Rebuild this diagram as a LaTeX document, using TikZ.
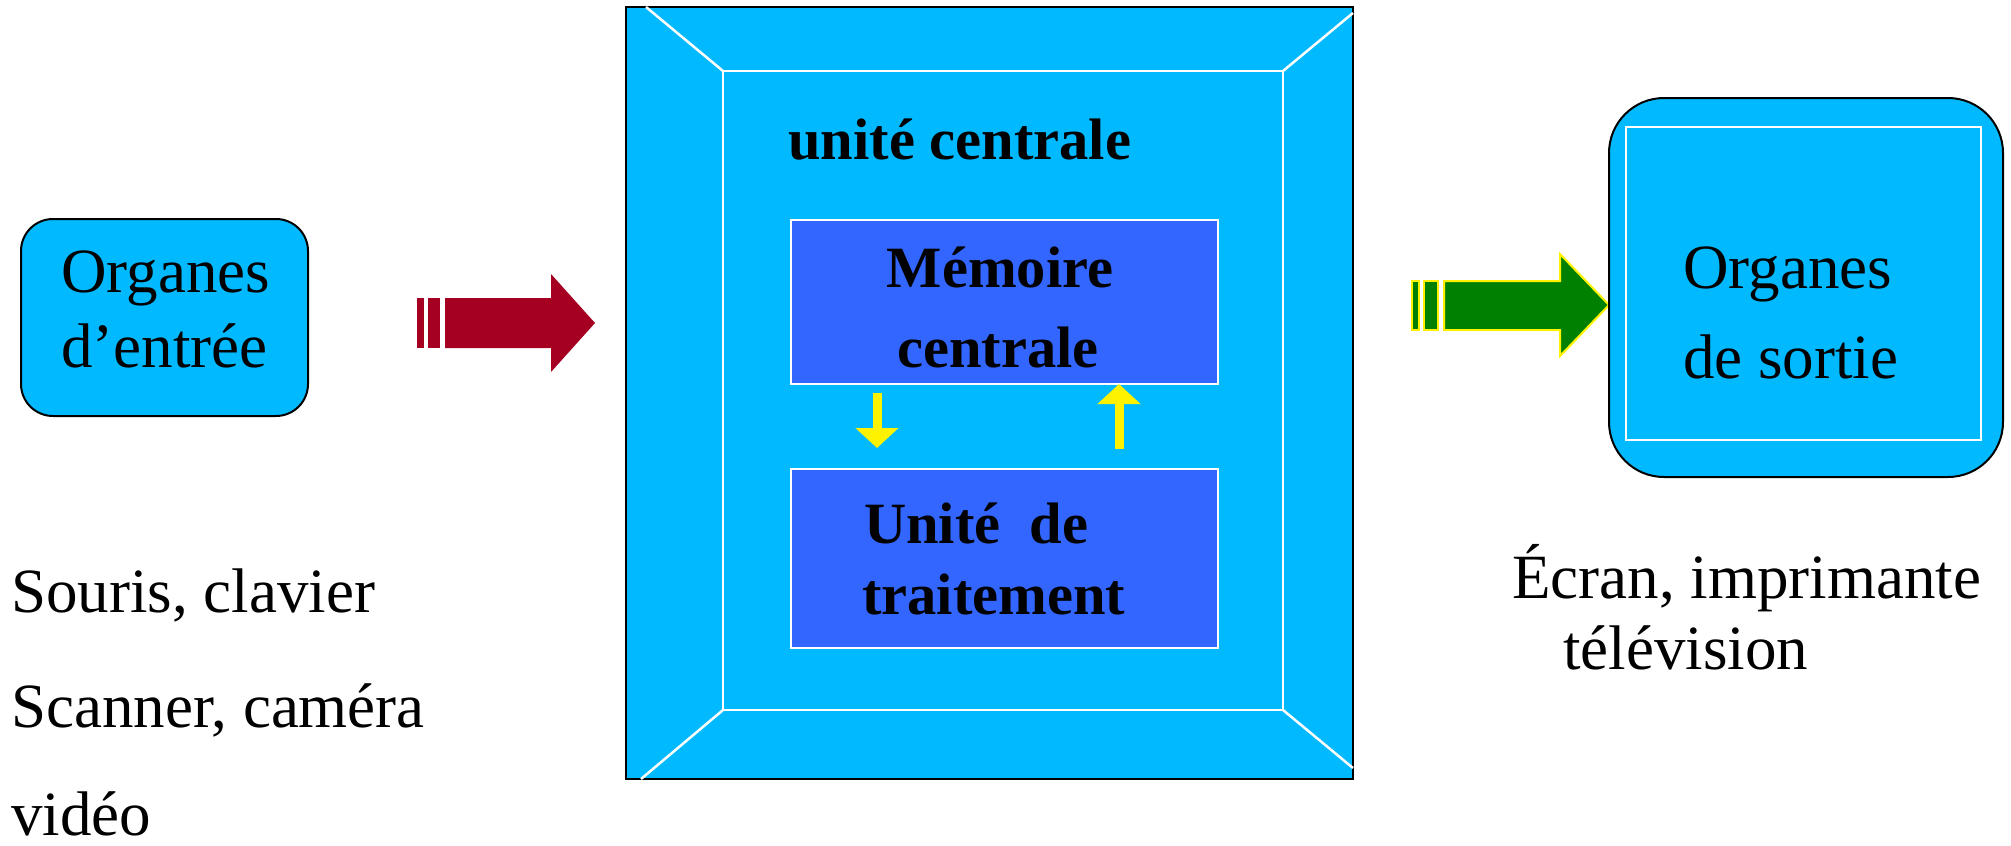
\documentclass[tikz,border=0pt]{standalone}
\usepackage{fontspec}
\setmainfont{Liberation Serif}
\usetikzlibrary{arrows.meta, fit, calc}

\definecolor{cyanfond}{RGB}{0,185,255}
\definecolor{bleubloc}{RGB}{51,102,255}
\definecolor{rougefleche}{RGB}{165,0,33}
\definecolor{vertfleche}{RGB}{0,128,0}

\tikzset{
  organe/.style={draw=black, line width=2pt, fill=cyanfond, inner sep=0pt, outer sep=0pt},
  cadre/.style={draw=white, line width=2.5pt, inner sep=0pt, outer sep=0pt},
  bloc/.style={draw=white, line width=2.5pt, fill=bleubloc, inner sep=0pt, outer sep=0pt},
  texte/.style={inner sep=0pt, anchor=base west, font=\fontsize{63}{75}\selectfont},
  gras/.style={inner sep=0pt, anchor=base west, font=\fontsize{58.5}{70}\selectfont\bfseries},
  echange/.style={draw=yellow, line width=9pt, -{Triangle[width=42pt,length=20pt]}}
}

\begin{document}
\begin{tikzpicture}[x=1pt, y=-1pt]
    \useasboundingbox (0,0) rectangle (2011,846);

    % Organes d'entree
    \node[organe, rounded corners=32pt, fit={(21,219) (308,416)}] (entree) {};
    \node[texte] (entree1) at (61,292) {Organes};
    \node[texte] (entree2) at (61,367) {d’entrée};

    % Exemples d'entree
    \node[texte] (ex1) at (11,612) {Souris, clavier};
    \node[texte] (ex2) at (11,727) {Scanner, caméra};
    \node[texte] (ex3) at (11,835) {vidéo};

    % Fleche rouge (entree -> unite centrale)
    \fill[rougefleche] (417,298) rectangle (424,348);
    \fill[rougefleche] (428,298) rectangle (440,348);
    \fill[rougefleche] (445,298) -- (551,298) -- (551,274) -- (595,323)
        -- (551,372) -- (551,348) -- (445,348) -- cycle;

    % Unite centrale (cadre en relief)
    \node[organe, fit={(626,7) (1353,779)}] (uc) {};
    \node[cadre, fit={(723,71) (1283,710)}] (interieur) {};
    \draw[cadre] (interieur.north west) -- (646,7);
    \draw[cadre] (interieur.north east) -- (1353,13);
    \draw[cadre] (interieur.south west) -- (641,779);
    \draw[cadre] (interieur.south east) -- (1353,768);
    \node[gras] (titre) at (788,159) {unité centrale};

    % Memoire centrale
    \node[bloc, fit={(791,220) (1218,384)}] (memoire) {};
    \node[gras, anchor=base] (memoire1) at (1000,287) {Mémoire};
    \node[gras, anchor=base] (memoire2) at (998,367) {centrale};

    % Unite de traitement
    \node[bloc, fit={(791,469) (1218,648)}] (traitement) {};
    \node[gras] (traitement1) at (864,543) {Unité\ \ de};
    \node[gras] (traitement2) at (862,614) {traitement};

    % Echanges memoire <-> traitement
    \draw[echange] ($(memoire.south west)+(86,9)$) -- ($(traitement.north west)+(86,-21)$);
    \draw[echange] ($(traitement.north west)+(328,-20)$) -- ($(memoire.south west)+(328,0)$);

    % Fleche verte (unite centrale -> sortie)
    \filldraw[fill=vertfleche, draw=yellow, line width=2pt] (1412,281) rectangle (1419,330);
    \filldraw[fill=vertfleche, draw=yellow, line width=2pt] (1424,281) rectangle (1438,330);
    \filldraw[fill=vertfleche, draw=yellow, line width=2pt] (1444,281) -- (1560,281) -- (1560,254)
        -- (1609,305) -- (1560,356) -- (1560,330) -- (1444,330) -- cycle;

    % Organes de sortie
    \node[organe, rounded corners=55pt, fit={(1609,98) (2003,477)}] (sortie) {};
    \node[cadre, line width=2pt, fit={(1626,127) (1981,440)}] (ecran) {};
    \node[texte] (sortie1) at (1683,288) {Organes};
    \node[texte] (sortie2) at (1683,378) {de sortie};

    % Exemples de sortie
    \node[texte] (ex4) at (1512,598) {Écran, imprimante};
    \node[texte] (ex5) at (1563,669) {télévision};
\end{tikzpicture}
\end{document}
